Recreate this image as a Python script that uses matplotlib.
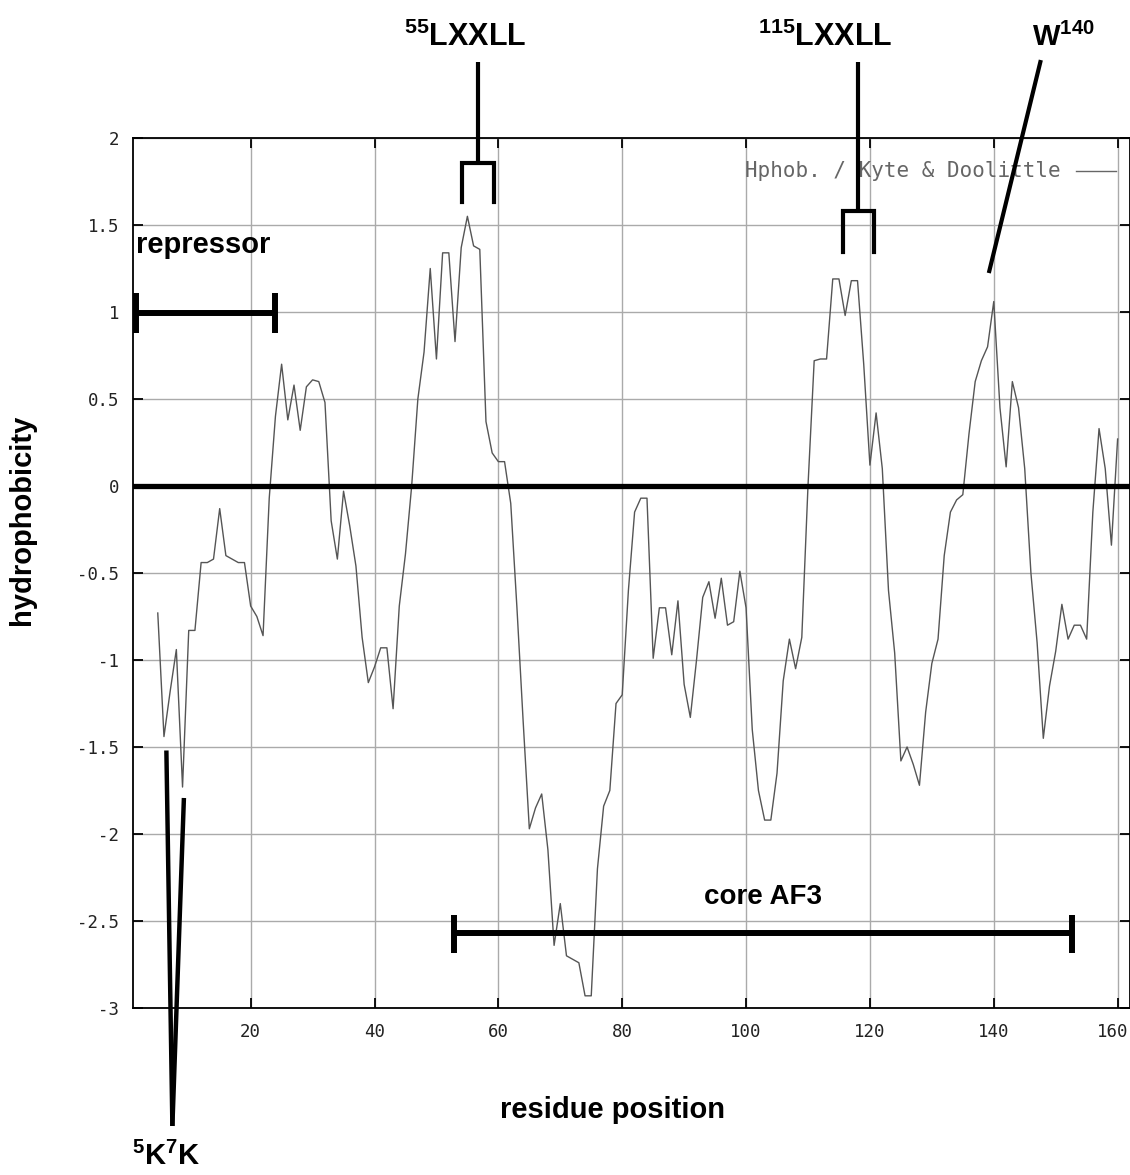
import numpy as np
import matplotlib
matplotlib.use('Agg')
import matplotlib.pyplot as plt
import matplotlib.transforms as mtransforms

plt.rcParams['mathtext.fontset'] = 'custom'
plt.rcParams['mathtext.rm'] = 'Liberation Sans:bold'
plt.rcParams['mathtext.bf'] = 'Liberation Sans:bold'
plt.rcParams['mathtext.default'] = 'bf'

# Kyte & Doolittle profile, one value per residue starting at residue 5
hydro = [
    -0.73, -1.44, -1.18, -0.94, -1.73, -0.83, -0.83, -0.44, -0.44, -0.42,   # 5-14
    -0.13, -0.40, -0.42, -0.44, -0.44, -0.69, -0.75, -0.86, -0.07, 0.40,    # 15-24
    0.70, 0.38, 0.58, 0.32, 0.57, 0.61, 0.60, 0.48, -0.20, -0.42,           # 25-34
    -0.03, -0.23, -0.46, -0.87, -1.13, -1.04, -0.93, -0.93, -1.28, -0.69,   # 35-44
    -0.39, 0.00, 0.50, 0.77, 1.25, 0.73, 1.34, 1.34, 0.83, 1.37,            # 45-54
    1.55, 1.38, 1.36, 0.37, 0.19, 0.14, 0.14, -0.10, -0.70, -1.35,          # 55-64
    -1.97, -1.85, -1.77, -2.09, -2.64, -2.40, -2.70, -2.72, -2.74, -2.93,   # 65-74
    -2.93, -2.20, -1.84, -1.75, -1.25, -1.20, -0.60, -0.15, -0.07, -0.07,   # 75-84
    -0.99, -0.70, -0.70, -0.97, -0.66, -1.14, -1.33, -1.00, -0.64, -0.55,   # 85-94
    -0.76, -0.53, -0.80, -0.78, -0.49, -0.70, -1.40, -1.75, -1.92, -1.92,   # 95-104
    -1.65, -1.12, -0.88, -1.05, -0.87, 0.00, 0.72, 0.73, 0.73, 1.19,        # 105-114
    1.19, 0.98, 1.18, 1.18, 0.70, 0.12, 0.42, 0.10, -0.60, -0.96,           # 115-124
    -1.58, -1.50, -1.60, -1.72, -1.30, -1.02, -0.88, -0.40, -0.15, -0.08,   # 125-134
    -0.05, 0.30, 0.60, 0.72, 0.80, 1.06, 0.45, 0.11, 0.60, 0.45,            # 135-144
    0.10, -0.50, -0.90, -1.45, -1.15, -0.95, -0.68, -0.88, -0.80, -0.80,    # 145-154
    -0.88, -0.15, 0.33, 0.10, -0.34, 0.27,                                  # 155-160
]
first_residue = 5
residue = np.arange(first_residue, first_residue + len(hydro))

x_ticks = [20, 40, 60, 80, 100, 120, 140, 160]
y_ticks = [2, 1.5, 1, 0.5, 0, -0.5, -1, -1.5, -2, -2.5, -3]
y_labels = ['2', '1.5', '1', '0.5', '0', '-0.5', '-1', '-1.5', '-2', '-2.5', '-3']

# domains (start, end) in residues
repressor = (1.45, 23.95)
core_af3 = (52.8, 152.6)
motif_55 = (54.2, 59.3)
motif_115 = (115.7, 120.6)

W, H = 1130, 1175
fig = plt.figure(figsize=(W / 100, H / 100), dpi=100)
ax = fig.add_axes([133 / W, 1 - 1008 / H, (W - 133) / W, 870 / H])

ax.plot(residue, hydro, color='#555555', lw=1.0, zorder=3)
ax.axhline(0, color='black', lw=3.8, zorder=4)

ax.set_xlim(1, 162)
ax.set_ylim(-3, 2)
ax.set_xticks(x_ticks)
ax.set_yticks(y_ticks)
ax.set_yticklabels(y_labels)
ax.grid(True, color='#aaaaaa', lw=1.0)
ax.set_axisbelow(True)
for s in ax.spines.values():
    s.set_linewidth(1.3)
ax.tick_params(direction='in', length=7.5, width=1.3, top=True, right=True,
               labelsize=12.5, labelcolor='#222222')
ax.tick_params(axis='x', pad=11)
ax.tick_params(axis='y', pad=10)
for lab in ax.get_xticklabels() + ax.get_yticklabels():
    lab.set_family('DejaVu Sans Mono')
# last x label sits on the figure edge, pull it in a little
last = ax.get_xticklabels()[-1]
last.set_transform(last.get_transform() +
                   mtransforms.ScaledTranslation(-5 / 100, 0, fig.dpi_scale_trans))

# legend, drawn like the original program did
ax.text(99.8, 1.812, 'Hphob. / Kyte & Doolittle', family='DejaVu Sans Mono',
        fontsize=15, color='#666666', va='center', ha='left', zorder=5)
ax.plot([153.2, 159.7], [1.812, 1.812], color='#666666', lw=1.0, zorder=5)

bold = dict(family='Liberation Sans', fontweight='bold', color='black')
k = dict(color='black', clip_on=False, zorder=6, solid_capstyle='butt')

# repressor bar
ax.text(1.45, 1.34, 'repressor', fontsize=21, ha='left', va='baseline', **bold)
ax.plot(repressor, [0.993, 0.993], lw=4.3, **k)
for xx in repressor:
    ax.plot([xx, xx], [1.11, 0.88], lw=4.3, **k)

# core AF3 bar
ax.text(93.2, -2.40, 'core AF3', fontsize=20, ha='left', va='baseline', **bold)
ax.plot(core_af3, [-2.569, -2.569], lw=4.3, **k)
for xx in core_af3:
    ax.plot([xx, xx], [-2.466, -2.684], lw=4.3, **k)

# LXXLL brackets
for (a, b), top, low in [(motif_55, 1.858, 1.634), (motif_115, 1.58, 1.345)]:
    mid = (a + b) / 2
    ax.plot([mid, mid], [2.437, top], lw=3.0, **k)
    ax.plot([a, a, b, b], [low, top, top, low], lw=3.0, solid_joinstyle='miter',
            color='black', clip_on=False, zorder=6)

ax.text(44.7, 2.529, r'$^{55}$LXXLL', fontsize=22, ha='left', va='baseline',
        clip_on=False, **bold)
ax.text(101.9, 2.529, r'$^{115}$LXXLL', fontsize=22, ha='left', va='baseline',
        clip_on=False, **bold)

# W140 pointer
ax.plot([147.6, 139.2], [2.448, 1.224], lw=3.0, **k)
ax.text(146.1, 2.529, r'W$^{140}$', fontsize=21, ha='left', va='baseline',
        clip_on=False, **bold)

# 5K7K pointers
ax.plot([6.39, 7.36], [-1.52, -3.678], lw=3.2, **k)
ax.plot([9.22, 7.36], [-1.793, -3.678], lw=3.2, **k)
ax.text(0.9, -3.905, r'$^{5}$K$^{7}$K', fontsize=21, ha='left', va='baseline',
        clip_on=False, **bold)

fig.text(22 / W, 1 - 520 / H, 'hydrophobicity', rotation=90, fontsize=21,
         ha='center', va='center', **bold)
fig.text(613 / W, 1 - 1110 / H, 'residue position', fontsize=21,
         ha='center', va='center', **bold)

fig.savefig('out.png', dpi=100)
